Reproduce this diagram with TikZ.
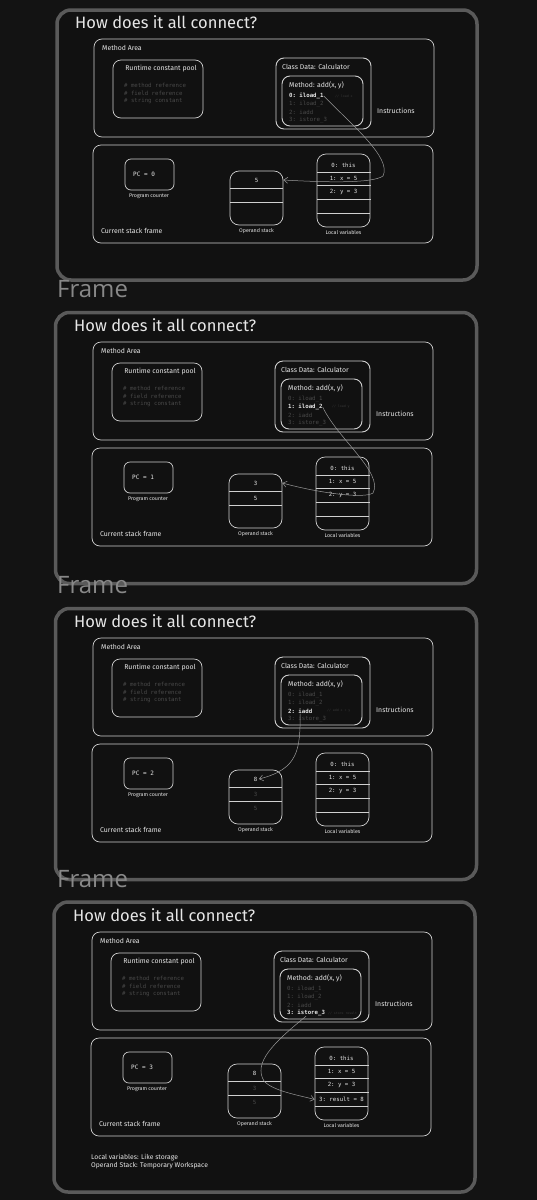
\documentclass[tikz,border=0pt]{standalone}
\usepackage{fontspec}
\setmainfont{Fira Sans}
\setmonofont{DejaVu Sans Mono}
\newfontfamily\framefont{Open Sans}
\usetikzlibrary{arrows.meta}
\definecolor{bg}{HTML}{131313}
\definecolor{inner}{HTML}{111111}
\definecolor{outer}{HTML}{5A5A5A}
\definecolor{boxc}{HTML}{D0D0D0}
\definecolor{txt}{HTML}{E6E6E6}
\definecolor{dim}{HTML}{4A4A4A}
\definecolor{dimmer}{HTML}{383838}
\definecolor{lbl}{HTML}{888888}
\definecolor{arr}{HTML}{9A9A9A}
\tikzset{
  outerframe/.style={draw=outer, fill=inner, line width=3.5pt, rounded corners=14pt, inner sep=0},
  area/.style={draw=boxc, line width=0.7pt, rounded corners=8pt, inner sep=0},
  cellline/.style={draw=boxc, line width=0.7pt},
  titletext/.style={text=txt, font=\fontsize{16.5}{17}\selectfont, anchor=base west, inner sep=0},
  hand/.style={text=txt, font=\fontsize{6.9}{7}\selectfont, inner sep=0},
  tinyhand/.style={text=txt, font=\fontsize{5.3}{6}\selectfont, inner sep=0},
  code/.style={font=\ttfamily\fontsize{5.7}{6}\selectfont, inner sep=0, anchor=west},
  codeact/.style={code, text=txt, font=\ttfamily\bfseries\fontsize{5.7}{6}\selectfont},
  codeoff/.style={code, text=dim},
  cellon/.style={font=\ttfamily\fontsize{5.7}{6}\selectfont, text=txt, inner sep=1.5pt},
  celloff/.style={font=\ttfamily\fontsize{5.7}{6}\selectfont, text=dim, inner sep=1.5pt},
  note/.style={font=\ttfamily\fontsize{3.2}{4}\selectfont, text=dimmer, inner sep=0, anchor=west},
  flow/.style={draw=arr, line width=0.5pt, -{Straight Barb[length=4pt,width=6pt]}},
  framelabel/.style={text=lbl, font=\framefont\fontsize{24}{24}\selectfont, anchor=base west, inner sep=0},
}
\newcommand\jvmcommon{%
  \node[titletext] (title) at (75,28.5) {How does it all connect?};
  \node[area, minimum width=340, minimum height=98] (ma) at (264,88) {};
  \node[hand, anchor=west] (malbl) at (102,48) {Method Area};
  \node[area, minimum width=90, minimum height=58] (pool) at (158,89) {};
  \node[hand] (pooltitle) at (161,69) {Runtime constant pool};
  \node[codeoff] (p1) at (124,85) {\# method reference};
  \node[codeoff] (p2) at (124,93) {\# field reference};
  \node[codeoff] (p3) at (124,101) {\# string constant};
  \node[area, line width=0.9pt, minimum width=95, minimum height=71] (cd) at (323.5,93.5) {};
  \node[hand, anchor=west] (cdlbl) at (282,67) {Class Data: Calculator};
  \node[area, line width=0.9pt, minimum width=81, minimum height=50] (mb) at (322.5,101) {};
  \node[hand, anchor=west] (mblbl) at (289,85) {Method: add(x, y)};
  \node[hand, anchor=west] (inslbl) at (377,111) {Instructions};
  \node[area, minimum width=340, minimum height=98] (sf) at (263,194) {};
  \node[hand, anchor=west] (sflbl) at (101,231) {Current stack frame};
  \node[area, rounded corners=6pt, minimum width=49, minimum height=31] (pc) at (149.5,174.5) {};
  \node[tinyhand] (pclbl) at (149,196) {Program counter};
  \node[area, rounded corners=9pt, minimum width=53, minimum height=54] (os) at (256.5,198) {};
  \draw[cellline] (230,188) -- (283,188) (230,202) -- (283,202);
  \node[tinyhand] (oslbl) at (256.5,231) {Operand stack};
  \node[area, rounded corners=9pt, minimum width=53, minimum height=73] (lv) at (343.5,190.5) {};
  \draw[cellline] (317,172) -- (371,172) (317,185) -- (371,185) (317,199) -- (371,199) (317,213) -- (370,213);
  \node[tinyhand] (lvlbl) at (343.5,232) {Local variables};
  \node[cellon] (l0) at (343.5,165.5) {0: this};
  \node[cellon] (l1) at (343.5,178.5) {1: x = 5};
  \node[cellon] (l2) at (343.5,192) {2: y = 3};
}
\newcommand\instrs[4]{%
  \node[#1] (i0) at (289,96) {0: iload\_1};
  \node[#2] (i1) at (289,104) {1: iload\_2};
  \node[#3] (i2) at (289,112) {2: iadd};
  \node[#4] (i3) at (289,120) {3: istore\_3};
}
\begin{document}
\begin{tikzpicture}[x=1pt, y=-1pt]
\fill[bg] (0,0) rectangle (537,1200);
\useasboundingbox (0,0) rectangle (537,1200);

% ---------- Frame 1 ----------
\begin{scope}[name prefix=f1-]
  \node[outerframe, minimum width=420, minimum height=270] (frame) at (267,145) {};
  \jvmcommon
  \instrs{codeact}{codeoff}{codeoff}{codeoff}
  \node[note] (cm) at (335,96) {// load x};
  \node[cellon, font=\ttfamily\fontsize{6}{6}\selectfont, anchor=west, inner sep=0] (pcv) at (133,174) {PC = 0};
  \node[cellon] (c1) at (256.5,180) {5};
  \coordinate (turn) at (383,176);
  \draw[flow] (i0.east) .. controls (352,125) and (392,158) .. (turn)
     .. controls (372,184) and (320,182) .. (os.east |- c1);
\end{scope}
\node[framelabel] (fl1) at (57,297.5) {Frame};

% ---------- Frame 2 ----------
\begin{scope}[shift={(-1,303)}, name prefix=f2-]
  \node[outerframe, minimum width=421, minimum height=271] (frame) at (267,145) {};
  \jvmcommon
  \instrs{codeoff}{codeact}{codeoff}{codeoff}
  \node[note] (cm) at (333,104) {// load y};
  \node[cellon, font=\ttfamily\fontsize{6}{6}\selectfont, anchor=west, inner sep=0] (pcv) at (133,174) {PC = 1};
  \node[cellon] (c1) at (256.5,180) {3};
  \node[cellon] (c2) at (256.5,195) {5};
  \coordinate (turn) at (374,190);
  \draw[flow] (i1.east) .. controls (338,135) and (385,170) .. (turn)
     .. controls (365,196) and (320,190) .. (os.east |- c1);
\end{scope}
\node[framelabel] (fl2) at (57,593) {Frame};

% ---------- Frame 3 ----------
\begin{scope}[shift={(-1,599)}, name prefix=f3-]
  \node[outerframe, minimum width=421, minimum height=271] (frame) at (267,145) {};
  \jvmcommon
  \instrs{codeoff}{codeoff}{codeact}{codeoff}
  \node[note] (cm) at (328,112) {// add x + y};
  \node[cellon, font=\ttfamily\fontsize{6}{6}\selectfont, anchor=west, inner sep=0] (pcv) at (133,174) {PC = 2};
  \node[cellon] (c1) at (256.5,180) {8};
  \node[celloff] (c2) at (256.5,195) {3};
  \node[celloff] (c3) at (256.5,209) {5};
  \draw[flow] (i2.south) .. controls (301,150) and (300,170) .. (c1.east);
\end{scope}
\node[framelabel] (fl3) at (57,887.5) {Frame};

% ---------- Frame 4 ----------
\begin{scope}[shift={(-2,893)}, name prefix=f4-]
  \node[outerframe, minimum width=421, minimum height=290] (frame) at (266.5,154) {};
  \jvmcommon
  \instrs{codeoff}{codeoff}{codeoff}{codeact}
  \node[note] (cm) at (330,120) {// store result};
  \node[cellon, font=\ttfamily\fontsize{6}{6}\selectfont, anchor=west, inner sep=0] (pcv) at (133,174) {PC = 3};
  \node[cellon] (c1) at (256.5,180) {8};
  \node[celloff] (c2) at (256.5,195) {3};
  \node[celloff] (c3) at (256.5,209) {5};
  \node[cellon] (l3) at (343.5,206.5) {3: result = 8};
  \coordinate (turn) at (266,188);
  \draw[flow] (i3.south) .. controls (275,150) and (255,170) .. (turn)
     .. controls (275,198) and (300,202) .. (lv.west |- l3);
  \node[hand, anchor=west, font=\fontsize{6.8}{7}\selectfont] (n1) at (93,265) {Local variables: Like storage};
  \node[hand, anchor=west, font=\fontsize{6.8}{7}\selectfont] (n2) at (93,273) {Operand Stack: Temporary Workspace};
\end{scope}
\end{tikzpicture}
\end{document}
